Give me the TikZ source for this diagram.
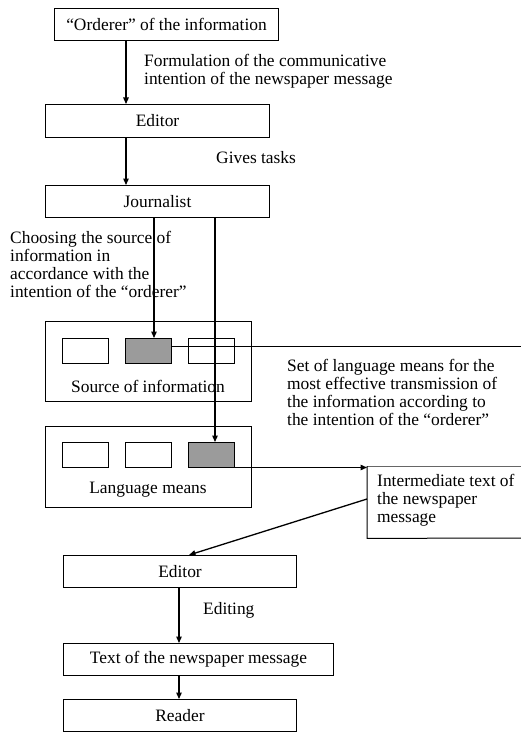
\documentclass[tikz,border=0pt]{standalone}
\usepackage{fontspec}
\setmainfont{Liberation Serif}
\usetikzlibrary{arrows.meta,calc}
\definecolor{boxgray}{RGB}{155,155,155}
\begin{document}
\begin{tikzpicture}[x=1pt,y=-1pt,
  every node/.style={font=\fontsize{17.4}{18}\selectfont, inner sep=0pt},
  box/.style={draw, line width=1pt, minimum width=#1, anchor=north west},
  box/.default=224pt,
  small/.style={draw, line width=1pt, minimum width=46pt, minimum height=24.5pt, anchor=north west},
  graybox/.style={small, fill=boxgray},
  arr/.style={line width=1.3pt, -{Triangle[length=6.5pt,width=5.5pt]}},
  plain/.style={line width=1pt},
  lbl/.style={align=left, anchor=north west}
]
\useasboundingbox (0,0) rectangle (521,733);
% main boxes
\node[box=224pt, minimum height=32pt] (ord) at (54,8) {``Orderer'' of the information};
\node[box=224pt, minimum height=33pt] (ed1) at (45,104) {Editor};
\node[box=224pt, minimum height=32pt] (jour) at (45,185) {Journalist};
% source of information
\node[draw, line width=1pt, minimum width=206pt, minimum height=80pt, anchor=north west] (src) at (45,321) {};
\node[small] (s1) at (62,338) {};
\node[graybox] (s2) at (125,338) {};
\node[small] (s3) at (188,338) {};
\node (srclbl) at (148,386) {Source of information};
% language means
\node[draw, line width=1pt, minimum width=206pt, minimum height=81pt, anchor=north west] (lang) at (45,426) {};
\node[small] (l1) at (62,442) {};
\node[small] (l2) at (125,442) {};
\node[graybox] (l3) at (188,442) {};
\node (langlbl) at (148,490) {Language means};
% intermediate text
\node[minimum width=154pt, minimum height=72pt, anchor=north west] (inter) at (367,466) {};
\draw[line width=0.8pt, draw=black!60] (521,466) -- (inter.north west);
\draw[line width=1pt] (inter.north west) -- (inter.south west) -- (521,538);
\node[lbl] (interlbl) at (377,474.5) {Intermediate text of\\the newspaper\\message};
% lower boxes
\node[box=233pt, minimum height=32pt] (ed2) at (63,555) {Editor};
\node[box=270pt, minimum height=32pt] (txt) at (63,643) {Text of the newspaper message};
\node[box=233pt, minimum height=32pt] (read) at (63,699) {Reader};
% labels
\node[lbl] (l1a) at (144,54.5) {Formulation of the communicative\\intention of the newspaper message};
\node[lbl] (l2a) at (216,151.5) {Gives tasks};
\node[lbl] (l3a) at (10,231.5) {Choosing the source of\\information in\\accordance with the\\intention of the ``orderer''};
\node[lbl] (l4a) at (287,359.5) {Set of language means for the\\most effective transmission of\\the information according to\\the intention of the ``orderer''};
\node[lbl] (l5a) at (203,602.5) {Editing};
% coordinates
\coordinate (xa) at (126,0);
\coordinate (xb) at (154,0);
\coordinate (xc) at (215,0);
\coordinate (redge) at (521,346);
\coordinate (xd) at (179,0);
\coordinate (ein) at (367,499);
\coordinate (ed2top) at (189,555);
% connectors
\draw[arr] (xa |- ord.south) -- (xa |- ed1.north);
\draw[arr] (xa |- ed1.south) -- (xa |- jour.north);
\draw[arr] (xb |- jour.south) -- (xb |- s2.north);
\draw[arr] (xc |- jour.south) -- (xc |- l3.north);
\draw[plain] (s2.east |- redge) -- (redge);
\draw[arr] (l3.south east) -- (l3.south east -| inter.west);
\draw[arr] (ein) -- (ed2top);
\draw[arr] (xd |- ed2.south) -- (xd |- txt.north);
\draw[arr] (xd |- txt.south) -- (xd |- read.north);
\end{tikzpicture}
\end{document}
